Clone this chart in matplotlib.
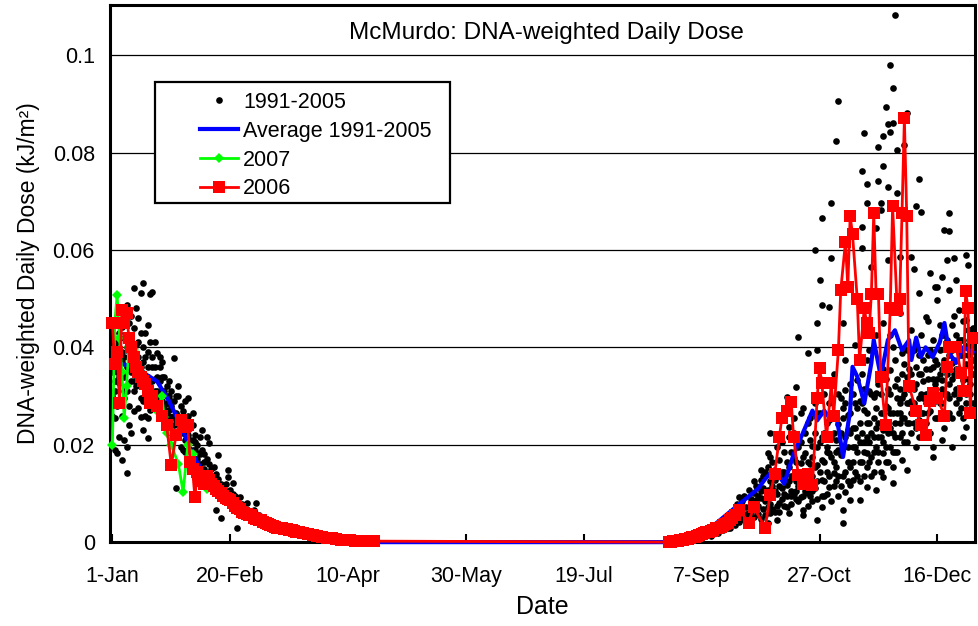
import numpy as np
import matplotlib
matplotlib.use('Agg')
import matplotlib.pyplot as plt
from matplotlib.patches import Rectangle

plt.rcParams['font.family'] = ['Liberation Sans', 'DejaVu Sans']

# 1991-2005 daily values (day of year, dose)
hist_spring = [
  (1, 0.030), (2, 0.036), (2, 0.0255), (3, 0.0388), (3, 0.0183), (3, 0.0445), (4, 0.0326), (4, 0.0215),
  (5, 0.0168), (5, 0.0347), (5, 0.0441), (6, 0.038), (6, 0.0295), (7, 0.0487), (7, 0.0195), (7, 0.0142),
  (8, 0.036), (9, 0.0224), (9, 0.042), (9, 0.0465), (10, 0.0522), (10, 0.031), (11, 0.0405), (12, 0.046),
  (12, 0.0275), (13, 0.0511), (13, 0.0257), (13, 0.0296), (14, 0.0532), (14, 0.023), (14, 0.0347),
  (15, 0.038), (16, 0.0446), (16, 0.0255), (16, 0.0214), (17, 0.0509), (17, 0.0271), (18, 0.0513),
  (18, 0.036), (19, 0.041), (19, 0.0335), (20, 0.0388), (21, 0.036), (21, 0.038), (22, 0.034),
  (23, 0.0236), (23, 0.031), (24, 0.0246), (24, 0.0285), (25, 0.0271), (26, 0.0257), (26, 0.0225),
  (27, 0.0378), (28, 0.0111), (28, 0.0265), (29, 0.032), (29, 0.030), (30, 0.0195), (31, 0.0224),
  (32, 0.0185), (33, 0.0296), (34, 0.0235), (35, 0.0164), (35, 0.0265), (36, 0.0205), (37, 0.0125),
  (38, 0.0183), (38, 0.0216), (39, 0.023), (40, 0.0165), (41, 0.0216), (42, 0.0203), (43, 0.0135),
  (44, 0.0154), (44, 0.0115), (45, 0.0066), (46, 0.0179), (47, 0.0049), (48, 0.0115), (49, 0.0085),
  (50, 0.0148), (50, 0.0133), (51, 0.0107), (52, 0.0121), (52, 0.008), (53, 0.0095), (54, 0.0029),
  (55, 0.0092), (56, 0.006), (56, 0.0078), (58, 0.008), (59, 0.0062), (61, 0.0066), (62, 0.008),
  (63, 0.0055), (64, 0.0051), (65, 0.0042), (67, 0.0045), (69, 0.0039), (70, 0.0033), (72, 0.003),
  (74, 0.0027), (75, 0.0029), (78, 0.0022), (81, 0.002), (83, 0.0017), (86, 0.0014), (90, 0.0011),
  (94, 0.0009), (98, 0.0006), (102, 0.0004), (106, 0.0003),
  (1, 0.041), (1, 0.035), (1, 0.026), (2, 0.040), (2, 0.031), (2, 0.019), (3, 0.035), (3, 0.028),
  (4, 0.037), (4, 0.043), (5, 0.039), (5, 0.026), (6, 0.034), (6, 0.042), (6, 0.021), (7, 0.031),
  (7, 0.040), (8, 0.045), (8, 0.028), (8, 0.024), (9, 0.037), (9, 0.033), (10, 0.044), (10, 0.027),
  (10, 0.039), (11, 0.035), (11, 0.032), (11, 0.048), (12, 0.041), (12, 0.038), (13, 0.036), (13, 0.043),
  (14, 0.040), (14, 0.029), (15, 0.034), (15, 0.043), (15, 0.026), (16, 0.039), (16, 0.036), (17, 0.033),
  (17, 0.041), (18, 0.038), (18, 0.029), (19, 0.036), (19, 0.031), (20, 0.034), (20, 0.029), (21, 0.033),
  (21, 0.026), (22, 0.031), (22, 0.029), (22, 0.037), (23, 0.034), (24, 0.032), (24, 0.027), (25, 0.030),
  (25, 0.033), (26, 0.028), (26, 0.031), (27, 0.029), (27, 0.024), (28, 0.030), (28, 0.022), (29, 0.026),
  (30, 0.028), (30, 0.023), (31, 0.027), (31, 0.019), (32, 0.025), (32, 0.029), (33, 0.022), (33, 0.026),
  (34, 0.021), (35, 0.024), (35, 0.019), (36, 0.022), (36, 0.017), (37, 0.020), (38, 0.016), (39, 0.019),
  (39, 0.014), (40, 0.018), (41, 0.017), (41, 0.013), (42, 0.016), (43, 0.015), (44, 0.013), (45, 0.014),
  (45, 0.011), (46, 0.013), (47, 0.012), (48, 0.0105), (49, 0.012), (50, 0.0095), (51, 0.0085),
  (52, 0.0098), (53, 0.0082), (54, 0.0088), (55, 0.0072), (56, 0.0068), (57, 0.0076), (58, 0.0062),
  (59, 0.0058), (60, 0.0064), (61, 0.0052), (62, 0.0057), (63, 0.0047), (64, 0.0043), (66, 0.0048),
  (67, 0.0038), (68, 0.0042), (69, 0.0031), (71, 0.0036), (73, 0.0032), (76, 0.0024), (77, 0.0028),
  (79, 0.0019), (82, 0.0021), (84, 0.0015),
  (1, 0.038), (2, 0.033), (3, 0.041), (4, 0.034), (5, 0.037), (6, 0.031), (7, 0.036), (8, 0.039),
  (9, 0.035), (10, 0.033), (11, 0.037), (12, 0.034), (13, 0.032), (14, 0.037), (15, 0.031), (16, 0.034),
  (17, 0.030), (18, 0.033), (19, 0.029), (20, 0.031), (21, 0.030), (22, 0.027), (23, 0.028), (24, 0.030),
  (25, 0.026), (26, 0.029), (27, 0.026), (28, 0.025), (29, 0.024), (30, 0.025), (31, 0.023), (32, 0.021),
  (33, 0.024), (34, 0.019), (35, 0.021), (36, 0.019), (37, 0.017), (38, 0.018), (40, 0.015), (42, 0.014),
  (43, 0.012), (46, 0.011), (47, 0.0095), (50, 0.0105), (53, 0.0088),
]

hist_autumn = [
  (242, 0.0003), (246, 0.0006), (250, 0.001), (253, 0.0015), (256, 0.002), (259, 0.003), (262, 0.0045),
  (262, 0.0028), (264, 0.0039), (264, 0.0055), (267, 0.0092), (268, 0.007), (270, 0.0035), (271, 0.0107),
  (271, 0.006), (273, 0.010), (274, 0.0086), (276, 0.0148), (276, 0.009), (276, 0.0127), (279, 0.0183),
  (279, 0.004), (280, 0.0224), (280, 0.006), (281, 0.0115), (283, 0.0045), (284, 0.008), (286, 0.0145),
  (287, 0.0298), (288, 0.006), (288, 0.0236), (289, 0.0105), (291, 0.0125), (291, 0.0318), (292, 0.0421),
  (293, 0.0162), (294, 0.0066), (294, 0.0055), (296, 0.0388), (296, 0.010), (297, 0.016), (297, 0.021),
  (298, 0.0085), (299, 0.060), (300, 0.045), (300, 0.0045), (300, 0.0265), (300, 0.0394), (301, 0.0538),
  (302, 0.0487), (302, 0.0168), (302, 0.0072), (302, 0.0665), (304, 0.0185), (305, 0.0483), (305, 0.025),
  (305, 0.0113), (306, 0.0696), (306, 0.0583), (307, 0.0142), (307, 0.0225), (308, 0.021), (308, 0.0823),
  (309, 0.0906), (309, 0.019), (311, 0.0039), (311, 0.045), (311, 0.0066), (311, 0.0275), (312, 0.0312),
  (312, 0.0374), (313, 0.023), (314, 0.0086), (314, 0.0154), (315, 0.0127), (315, 0.0195), (317, 0.0216),
  (317, 0.0333), (318, 0.0086), (318, 0.029), (319, 0.0762), (319, 0.0647), (319, 0.0604), (320, 0.084),
  (320, 0.0205), (321, 0.0113), (321, 0.0183), (321, 0.0244), (321, 0.0374), (321, 0.0735), (321, 0.0696),
  (322, 0.031), (323, 0.0565), (324, 0.0255), (325, 0.0107), (325, 0.0306), (325, 0.0645), (326, 0.0811),
  (326, 0.0741), (326, 0.0165), (327, 0.0682), (327, 0.0696), (328, 0.0133), (328, 0.0183), (328, 0.023),
  (328, 0.045), (328, 0.0834), (328, 0.0772), (329, 0.0893), (329, 0.028), (330, 0.0858), (330, 0.0729),
  (330, 0.0579), (331, 0.0353), (331, 0.098), (331, 0.0842), (331, 0.0195), (332, 0.0121), (332, 0.0154),
  (332, 0.040), (332, 0.0932), (332, 0.086), (333, 0.1082), (333, 0.032), (334, 0.0805), (334, 0.0717),
  (335, 0.0244), (335, 0.047), (335, 0.0585), (335, 0.0285), (336, 0.0168), (336, 0.0388), (337, 0.0815),
  (338, 0.0148), (338, 0.0881), (338, 0.034), (340, 0.0435), (340, 0.0585), (340, 0.029), (341, 0.0561),
  (342, 0.0195), (342, 0.036), (342, 0.069), (343, 0.0511), (343, 0.0745), (343, 0.025), (344, 0.0678),
  (345, 0.0216), (345, 0.033), (346, 0.0462), (347, 0.0385), (348, 0.0552), (348, 0.027), (349, 0.0175),
  (349, 0.036), (349, 0.0195), (350, 0.0524), (351, 0.0497), (351, 0.0524), (351, 0.0335), (353, 0.021),
  (353, 0.0333), (353, 0.0544), (353, 0.0425), (354, 0.0641), (355, 0.0579), (355, 0.0305), (356, 0.0517),
  (356, 0.0676), (356, 0.0639), (357, 0.0195), (357, 0.0368), (357, 0.0445), (358, 0.0583), (359, 0.0538),
  (359, 0.0285), (360, 0.0476), (361, 0.0415), (362, 0.0216), (362, 0.0333), (362, 0.0255), (363, 0.0236),
  (363, 0.0456), (363, 0.0589), (364, 0.0569), (364, 0.0405), (365, 0.036), (365, 0.0325), (366, 0.044),
  (255, 0.0012), (258, 0.0018), (260, 0.0025), (261, 0.0038), (263, 0.003), (265, 0.0048), (266, 0.0062),
  (267, 0.0042), (268, 0.0085), (269, 0.0055), (270, 0.0072), (271, 0.0045), (272, 0.0088), (272, 0.0062),
  (273, 0.0052), (274, 0.0115), (275, 0.0075), (275, 0.0058), (276, 0.0105), (277, 0.0068), (277, 0.0135),
  (278, 0.0085), (278, 0.0055), (279, 0.0108), (279, 0.0155), (280, 0.0078), (281, 0.0092), (281, 0.0165),
  (282, 0.0062), (282, 0.0128), (283, 0.0098), (283, 0.0195), (284, 0.0115), (284, 0.0062), (285, 0.0145),
  (285, 0.0088), (286, 0.0075), (286, 0.0185), (287, 0.0118), (287, 0.0095), (288, 0.0155), (288, 0.0215),
  (289, 0.0078), (289, 0.0135), (290, 0.0172), (290, 0.0098), (290, 0.0255), (291, 0.0088), (292, 0.0145),
  (292, 0.0115), (293, 0.0205), (293, 0.0092), (294, 0.0135), (294, 0.0275), (295, 0.0105), (295, 0.0182),
  (296, 0.0125), (296, 0.0245), (297, 0.0095), (298, 0.0198), (298, 0.0135), (299, 0.0112), (299, 0.0285),
  (300, 0.0158), (300, 0.0088), (301, 0.0205), (301, 0.0335), (302, 0.0128), (303, 0.0095), (303, 0.0225),
  (303, 0.0305), (304, 0.0145), (304, 0.0098), (305, 0.0182), (306, 0.0262), (306, 0.0085), (307, 0.0165),
  (307, 0.0345), (308, 0.0125), (309, 0.0242), (309, 0.0095), (310, 0.0178), (310, 0.0295), (311, 0.0135),
  (312, 0.0215), (312, 0.0102), (313, 0.0262), (313, 0.0165), (314, 0.0325), (314, 0.0118), (315, 0.0235),
  (316, 0.0145), (316, 0.0285), (316, 0.0405), (317, 0.0185), (318, 0.0125), (318, 0.0245), (319, 0.0345),
  (319, 0.0165), (320, 0.0272), (320, 0.0135), (321, 0.0215), (322, 0.0165), (322, 0.0395), (323, 0.0225),
  (323, 0.0135), (324, 0.0298), (324, 0.0185), (325, 0.0235), (325, 0.0425), (326, 0.0215), (326, 0.0325),
  (327, 0.0145), (327, 0.0265), (328, 0.0355), (329, 0.0195), (329, 0.0245), (330, 0.0315), (330, 0.0165),
  (331, 0.0265), (331, 0.0425), (332, 0.0225), (333, 0.0185), (333, 0.0375), (334, 0.0265), (334, 0.0295),
  (335, 0.0215), (336, 0.0345), (336, 0.0255), (337, 0.0305), (337, 0.0205), (338, 0.0395), (338, 0.0245),
  (339, 0.0285), (339, 0.0355), (340, 0.0225), (341, 0.0315), (341, 0.0395), (342, 0.0275), (343, 0.0345),
  (343, 0.0215), (344, 0.0305), (344, 0.0425), (345, 0.0265), (346, 0.0355), (346, 0.0245), (347, 0.0305),
  (347, 0.0455), (348, 0.0355), (348, 0.0225), (349, 0.0415), (350, 0.0295), (350, 0.0375), (351, 0.0255),
  (352, 0.0345), (352, 0.0445), (353, 0.0285), (354, 0.0375), (354, 0.0235), (355, 0.0415), (356, 0.0325),
  (356, 0.0265), (357, 0.0395), (358, 0.0305), (358, 0.0465), (359, 0.0355), (360, 0.0265), (360, 0.0415),
  (361, 0.0345), (362, 0.0385), (362, 0.0455), (363, 0.0305), (364, 0.0265), (364, 0.0435), (365, 0.0395),
  (365, 0.0485), (366, 0.0345), (366, 0.0285),
  (262, 0.0055), (265, 0.0035), (266, 0.0078), (268, 0.0048), (269, 0.0095), (270, 0.0058), (272, 0.0075),
  (273, 0.0125), (274, 0.0065), (275, 0.0095), (276, 0.0048), (277, 0.0112), (278, 0.0145), (279, 0.0072),
  (280, 0.0125), (280, 0.0175), (281, 0.0068), (282, 0.0105), (283, 0.0135), (283, 0.0075), (284, 0.0168),
  (285, 0.0112), (285, 0.0205), (286, 0.0098), (286, 0.0135), (287, 0.0165), (287, 0.0072), (288, 0.0125),
  (289, 0.0185), (289, 0.0095), (290, 0.0135), (290, 0.0225), (291, 0.0105), (291, 0.0165), (292, 0.0195),
  (292, 0.0085), (293, 0.0125), (293, 0.0265), (294, 0.0175), (294, 0.0095), (295, 0.0145), (295, 0.0225),
  (296, 0.0165), (296, 0.0075), (297, 0.0135), (297, 0.0255), (298, 0.0175), (298, 0.0105), (299, 0.0155),
  (299, 0.0225), (300, 0.0195), (300, 0.0125), (301, 0.0145), (301, 0.0265), (302, 0.0215), (302, 0.0095),
  (303, 0.0165), (303, 0.0125), (304, 0.0245), (304, 0.0195), (305, 0.0135), (305, 0.0285), (306, 0.0175),
  (306, 0.0215), (307, 0.0115), (307, 0.0265), (308, 0.0185), (308, 0.0155), (309, 0.0305), (309, 0.0135),
  (310, 0.0225), (310, 0.0115), (311, 0.0195), (311, 0.0255), (312, 0.0145), (312, 0.0285), (313, 0.0195),
  (313, 0.0125), (314, 0.0225), (314, 0.0265), (315, 0.0165), (315, 0.0305), (316, 0.0195), (316, 0.0235),
  (317, 0.0135), (317, 0.0275), (318, 0.0205), (318, 0.0165), (319, 0.0225), (319, 0.0285), (320, 0.0185),
  (320, 0.0315), (321, 0.0155), (321, 0.0265), (322, 0.0205), (322, 0.0245), (323, 0.0175), (323, 0.0305),
  (324, 0.0215), (324, 0.0145), (325, 0.0195), (325, 0.0275), (326, 0.0245), (326, 0.0185), (327, 0.0215),
  (327, 0.0305), (328, 0.0265), (328, 0.0205), (329, 0.0165), (329, 0.0335), (330, 0.0225), (330, 0.0275),
  (331, 0.0235), (331, 0.0305), (332, 0.0185), (332, 0.0265), (333, 0.0245), (333, 0.0215), (334, 0.0335),
  (334, 0.0185), (335, 0.0265), (335, 0.0315), (336, 0.0225), (336, 0.0295), (337, 0.0255), (337, 0.0365),
  (338, 0.0205), (338, 0.0285), (339, 0.0245), (339, 0.0315), (340, 0.0265), (340, 0.0345), (341, 0.0245),
  (341, 0.0285), (342, 0.0325), (342, 0.0235), (343, 0.0295), (343, 0.0385), (344, 0.0265), (344, 0.0345),
  (345, 0.0295), (345, 0.0375), (346, 0.0305), (346, 0.0285), (347, 0.0335), (347, 0.0265), (348, 0.0305),
  (348, 0.0395), (349, 0.0285), (349, 0.0335), (350, 0.0325), (350, 0.0255), (351, 0.0365), (351, 0.0305),
  (352, 0.0285), (352, 0.0395), (353, 0.0355), (353, 0.0315), (354, 0.0305), (354, 0.0425), (355, 0.0345),
  (355, 0.0265), (356, 0.0385), (356, 0.0295), (357, 0.0335), (357, 0.0255), (358, 0.0375), (358, 0.0345),
  (359, 0.0315), (359, 0.0425), (360, 0.0295), (360, 0.0355), (361, 0.0385), (361, 0.0275), (362, 0.0345),
  (362, 0.0415), (363, 0.0365), (363, 0.0285), (364, 0.0335), (364, 0.0385), (365, 0.0305), (365, 0.0435),
  (366, 0.0375), (366, 0.0405),
]

# average 1991-2005
avg_day = [1, 10, 20, 25, 30, 35, 40, 45, 50, 55, 60, 70, 80, 90, 100, 110, 115, 240, 245, 250, 255, 260,
           265, 270, 275, 278, 282, 286, 290, 295, 298, 300, 303, 306, 308, 311, 314, 315, 317, 320, 323,
           324, 327, 330, 333, 336, 339, 340, 342, 344, 346, 349, 352, 354, 356, 359, 362, 366]
avg_dose = [0.037, 0.036, 0.033, 0.029, 0.024, 0.018, 0.014, 0.011, 0.009, 0.007, 0.005, 0.003, 0.0018,
            0.0009, 0.0004, 0.0001, 0.0, 0.0, 0.0002, 0.0015, 0.003, 0.005, 0.007, 0.009, 0.011, 0.013,
            0.015, 0.012, 0.018, 0.0236, 0.027, 0.025, 0.027, 0.025, 0.0265, 0.0175, 0.027, 0.036, 0.034,
            0.0285, 0.0368, 0.0415, 0.034, 0.0415, 0.0435, 0.0394, 0.0415, 0.0374, 0.042, 0.038, 0.040,
            0.038, 0.041, 0.045, 0.0388, 0.0368, 0.040, 0.039]

# 2007
y2007_day = [1, 2, 3, 4, 5, 6, 7, 8, 10, 12, 14, 16, 18, 20, 22, 23, 24, 26, 29, 31, 33, 35, 36, 38, 41]
y2007_dose = [0.020, 0.045, 0.0507, 0.042, 0.035, 0.0255, 0.032, 0.040, 0.0394, 0.036, 0.033, 0.031,
              0.029, 0.027, 0.030, 0.0257, 0.0224, 0.020, 0.016, 0.0103, 0.020, 0.018, 0.015, 0.012, 0.011]

# 2006
y2006_day = [1, 2, 3, 4, 5, 6, 7, 8, 9, 10, 11, 12, 13, 14, 15, 16, 17, 18, 20, 22, 24, 26, 28, 30, 32,
             33, 34, 35, 36, 37, 38, 39, 40, 41, 42, 43, 44, 45, 46, 47, 48, 49, 50, 51, 52, 53, 54, 55,
             56, 57, 58, 59, 60, 61, 62, 63, 64, 65, 66, 67, 68, 69, 70, 71, 72, 73, 74, 75, 76, 77, 78,
             79, 80, 82, 84, 86, 88, 90, 92, 94, 96, 98, 100, 102, 104, 106, 108, 110, 112,
             237, 238, 239, 240, 241, 242, 243, 244, 245, 246, 247, 248, 249, 250, 251, 252, 253, 254, 255,
             256, 257, 258, 259, 260, 261, 262, 263, 264, 265, 267, 271, 273, 278, 280, 282, 284, 285, 287,
             289, 290, 292, 294, 296, 298, 300, 301, 302, 304, 306, 307, 309, 310, 312, 313, 314, 315, 317,
             318, 320, 321, 322, 323, 324, 325, 326, 327, 329, 331, 332, 334, 335, 336, 337, 338, 339, 342,
             344, 346, 348, 349, 351, 354, 355, 356, 359, 361, 362, 363, 364, 365, 366]
y2006_dose = [0.045, 0.0365, 0.039, 0.0285, 0.0476, 0.045, 0.047, 0.042, 0.040, 0.038, 0.036, 0.035, 0.034,
              0.033, 0.0325, 0.031, 0.0285, 0.030, 0.028, 0.026, 0.024, 0.0158, 0.022, 0.025, 0.0236, 0.024,
              0.0164, 0.015, 0.0092, 0.0144, 0.013, 0.0125, 0.012, 0.0135, 0.0127, 0.012, 0.0115, 0.011,
              0.0105, 0.010, 0.0095, 0.009, 0.0088, 0.0086, 0.008, 0.0075, 0.007, 0.0068, 0.0062, 0.006,
              0.0058, 0.0055, 0.0055, 0.005, 0.0048, 0.0046, 0.0045, 0.0042, 0.004, 0.0037, 0.0035, 0.0034,
              0.0032, 0.003, 0.003, 0.0028, 0.0027, 0.0026, 0.0025, 0.0024, 0.0022, 0.0021, 0.002, 0.0018,
              0.0016, 0.0014, 0.0012, 0.001, 0.0009, 0.0008, 0.0007, 0.0005, 0.0004, 0.0004, 0.0003, 0.0003,
              0.0002, 0.0002, 0.0002,
              0.0, 0.0001, 0.0002, 0.0002, 0.0003, 0.0004, 0.0005, 0.0006, 0.0007, 0.0008, 0.001, 0.0011,
              0.0012, 0.0014, 0.0016, 0.0018, 0.002, 0.0021, 0.0022, 0.0025, 0.0028, 0.003, 0.0032, 0.0035,
              0.0038, 0.004, 0.0045, 0.005, 0.0055, 0.0066, 0.004, 0.0072, 0.003, 0.0097, 0.014, 0.0216,
              0.0255, 0.027, 0.0288, 0.0216, 0.0138, 0.012, 0.014, 0.0117, 0.0296, 0.0357, 0.0326, 0.0216,
              0.0326, 0.026, 0.0394, 0.0517, 0.0616, 0.0524, 0.067, 0.0632, 0.050, 0.0374, 0.048, 0.045,
              0.043, 0.051, 0.0675, 0.051, 0.051, 0.034, 0.024, 0.048, 0.069, 0.0476, 0.050, 0.0675, 0.087,
              0.067, 0.032, 0.027, 0.024, 0.022, 0.029, 0.0306, 0.0296, 0.026, 0.036, 0.040, 0.040, 0.0347,
              0.031, 0.0515, 0.048, 0.0265, 0.042]

tick_days = [1, 51, 101, 151, 201, 251, 301, 351]
tick_labels = ['1-Jan', '20-Feb', '10-Apr', '30-May', '19-Jul', '7-Sep', '27-Oct', '16-Dec']
ytick_vals = [0, 0.02, 0.04, 0.06, 0.08, 0.1]
ytick_labels = ['0', '0.02', '0.04', '0.06', '0.08', '0.1']

def main():
  fig = plt.figure(figsize=(9.79, 6.26), dpi=100)
  ax = fig.add_axes([0.1124, 0.134, 0.8836, 0.858])

  hist = np.array(hist_spring + hist_autumn)
  ax.plot(hist[:, 0], hist[:, 1], 'o', color='black', ms=4.8, mew=0, zorder=3,
          label='1991-2005', clip_on=False)
  ax.plot(avg_day, avg_dose, '-', color='#0000ff', lw=3, zorder=4,
          label='Average 1991-2005', clip_on=False)
  ax.plot(y2007_day, y2007_dose, '-D', color='#00ff00', lw=2, ms=5.5, mew=0, zorder=5,
          label='2007', clip_on=False)
  ax.plot(y2006_day, y2006_dose, '-s', color='#ff0000', lw=2, ms=8, mew=0, zorder=6,
          label='2006', clip_on=False)

  ax.set_xlim(0, 367)
  ax.set_ylim(0, 0.1103)
  ax.set_xticks(tick_days)
  ax.set_xticklabels(tick_labels)
  ax.set_yticks(ytick_vals)
  ax.set_yticklabels(ytick_labels)
  ax.tick_params(axis='x', direction='in', length=6, width=1.5, labelsize=15.5, pad=17)
  ax.tick_params(axis='y', length=0, labelsize=15.5, pad=11)
  ax.yaxis.grid(True, color='black', lw=0.9)
  ax.set_axisbelow(True)
  for s in ax.spines.values():
    s.set_linewidth(2.2)

  ax.set_xlabel('Date', fontsize=18, labelpad=6)
  ax.set_ylabel('DNA-weighted Daily Dose (kJ/m\u00b2)', fontsize=16.5, labelpad=9)
  ax.text(0.504, 0.1046, 'McMurdo: DNA-weighted Daily Dose', ha='center', va='center',
          fontsize=17.5, transform=ax.get_yaxis_transform())

  ax.add_patch(Rectangle((0.052, 0.631), 0.341, 0.2253, transform=ax.transAxes, facecolor='white',
                         edgecolor='black', lw=1.6, zorder=9))
  leg = ax.legend(loc='upper left', bbox_to_anchor=(0.104, 0.838), fontsize=15.5, frameon=False,
                  handlelength=1.75, labelspacing=0.36, borderpad=0, handletextpad=0.25,
                  borderaxespad=0, numpoints=1)
  leg.set_zorder(10)

  fig.savefig('out.png', dpi=100)

if __name__ == '__main__':
  main()
